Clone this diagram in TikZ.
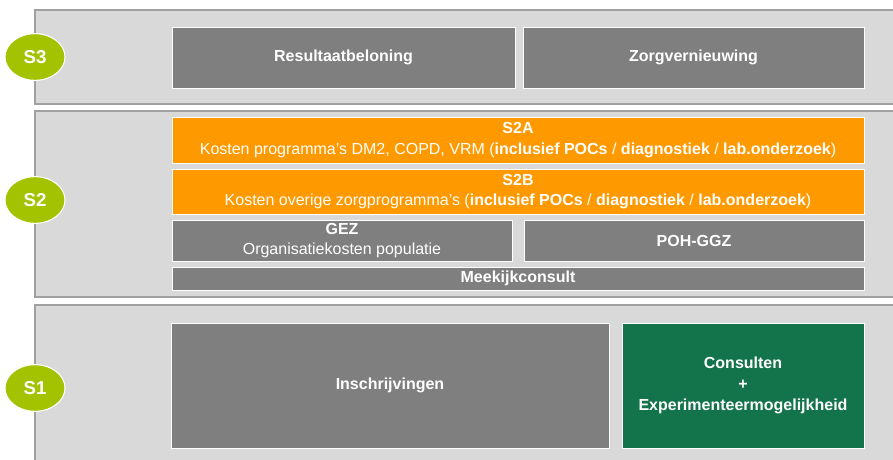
\documentclass[tikz,border=0pt]{standalone}
\usepackage{fontspec}
\setmainfont{Liberation Sans}
\usetikzlibrary{fit,shapes.geometric}
\definecolor{panelbg}{HTML}{D9D9D9}
\definecolor{panelline}{HTML}{A0A0A0}
\definecolor{boxgray}{HTML}{7F7F7F}
\definecolor{boxorange}{HTML}{FF9900}
\definecolor{boxgreen}{HTML}{13734B}
\definecolor{lime}{HTML}{A3C300}
\tikzset{
  panel/.style={fill=panelbg, draw=panelline, line width=1pt},
  blk/.style={draw=white, line width=0.6pt, inner sep=0pt},
  graybox/.style={blk, fill=boxgray},
  orangebox/.style={blk, fill=boxorange},
  greenbox/.style={blk, fill=boxgreen},
  lbl/.style={text=white, align=center, inner sep=0pt, font=\fontsize{12}{15.5}\selectfont},
  level/.style={ellipse, fill=lime, draw=white, line width=0.8pt, minimum width=45pt, minimum height=35pt, inner sep=0pt, text=white, font=\fontsize{14}{16}\selectfont\bfseries},
}
\begin{document}
\begin{tikzpicture}[x=0.75pt, y=-0.75pt]
\useasboundingbox (0,0) rectangle (893,460);
% panels
\path[panel] (35,10) rectangle (905,104);
\path[panel] (35,111) rectangle (905,297);
\path[panel] (35,305) rectangle (905,470);
% S3
\node[graybox, fit={(172,27) (515,88)}] (res) {};
\node[graybox, fit={(523,27) (864,88)}] (zorg) {};
% S2
\node[orangebox, fit={(172,117) (864,163)}] (s2a) {};
\node[orangebox, fit={(172,169) (864,214)}] (s2b) {};
\node[graybox, fit={(172,220) (512,261)}] (gez) {};
\node[graybox, fit={(524,220) (864,261)}] (poh) {};
\node[graybox, fit={(172,267) (864,290)}] (meek) {};
% S1
\node[graybox, fit={(171,323) (609,448)}] (insch) {};
\node[greenbox, fit={(622,323) (864,448)}] (cons) {};
% texts
\node[lbl] (res-t) at (res.center) {\textbf{Resultaatbeloning}};
\node[lbl] (zorg-t) at (zorg.center) {\textbf{Zorgvernieuwing}};
\node[lbl] (s2a-t) at (s2a.center) {\textbf{S2A}\\Kosten programma's DM2, COPD, VRM (\textbf{inclusief POCs} / \textbf{diagnostiek} / \textbf{lab.onderzoek})};
\node[lbl] (s2b-t) at (s2b.center) {\textbf{S2B}\\Kosten overige zorgprogramma's (\textbf{inclusief POCs} / \textbf{diagnostiek} / \textbf{lab.onderzoek})};
\node[lbl] (gez-t) at (gez.center) {\textbf{GEZ}\\Organisatiekosten populatie};
\node[lbl] (poh-t) at (poh.center) {\textbf{POH-GGZ}};
\node[lbl] (meek-t) at (meek.center) {\textbf{Meekijkconsult}};
\node[lbl] (insch-t) at (insch.center) {\textbf{Inschrijvingen}};
\node[lbl] (cons-t) at (cons.center) {\textbf{Consulten}\\\textbf{+}\\\textbf{Experimenteermogelijkheid}};
% level labels
\node[level] (l3) at (35,57) {S3};
\node[level] (l2) at (35,200) {S2};
\node[level] (l1) at (35,388) {S1};
\end{tikzpicture}
\end{document}
